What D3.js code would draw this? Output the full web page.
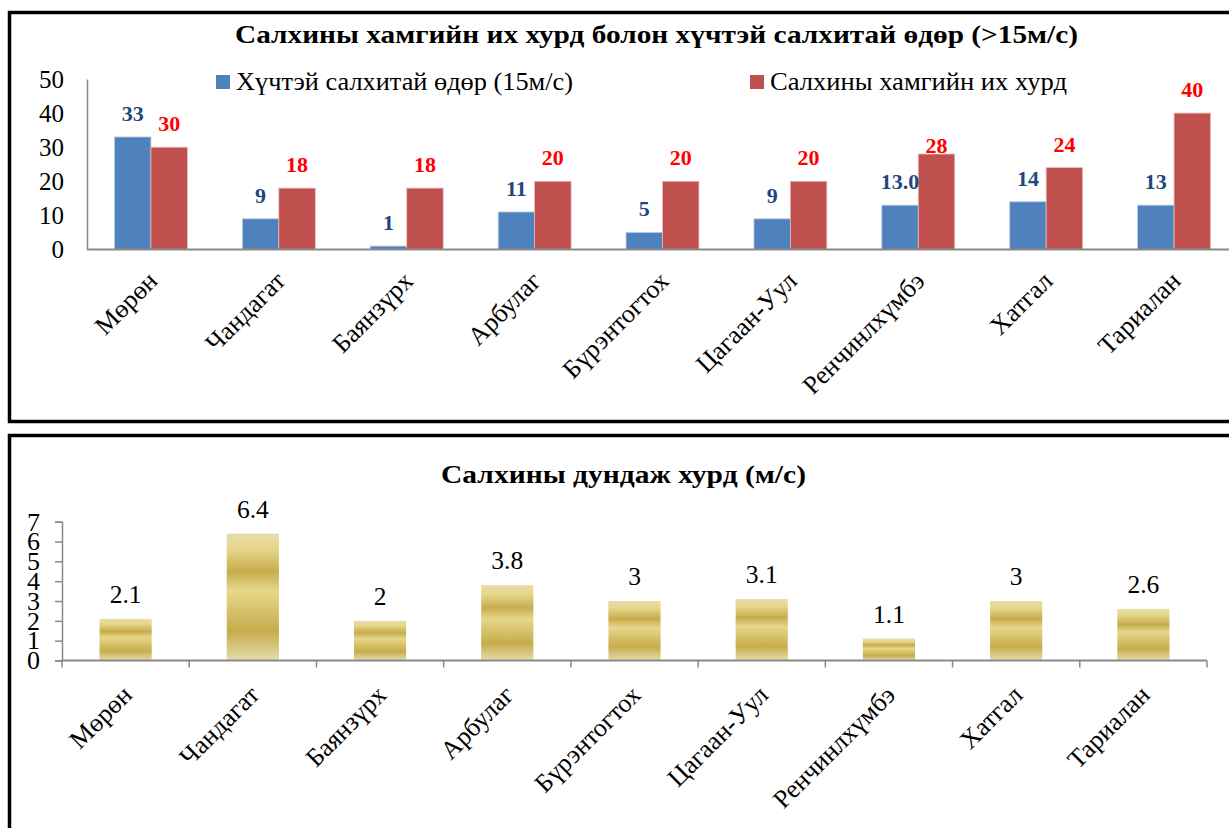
<!DOCTYPE html>
<html>
<head>
<meta charset="utf-8">
<script src="https://cdn.jsdelivr.net/npm/d3@7"></script>
<style>
  html, body { margin: 0; padding: 0; background: #fff; }
  svg { display: block; }
</style>
</head>
<body>
<svg id="chart" width="1229" height="828"></svg>
<script>
// ---------- data ----------
const categories = ["Мөрөн", "Чандагат", "Баянзүрх", "Арбулаг", "Бүрэнтогтох", "Цагаан-Уул", "Ренчинлхүмбэ", "Хатгал", "Тариалан"];
const strongWindDays = [33, 9, 1, 11, 5, 9, 13.0, 14, 13];
const strongWindLabels = ["33", "9", "1", "11", "5", "9", "13.0", "14", "13"];
const maxWindSpeed = [30, 18, 18, 20, 20, 20, 28, 24, 40];
const avgWindSpeed = [2.1, 6.4, 2, 3.8, 3, 3.1, 1.1, 3, 2.6];
const seriesNames = ["Хүчтэй салхитай өдөр (15м/с)", "Салхины хамгийн их хурд"];
const topTitle = "Салхины хамгийн их хурд болон хүчтэй салхитай өдөр (>15м/с)";
const bottomTitle = "Салхины дундаж хурд (м/с)";
const topTicks = [0, 10, 20, 30, 40, 50];
const bottomTicks = [0, 1, 2, 3, 4, 5, 6, 7];

const FONT = '"Liberation Serif", "Times New Roman", Tinos, serif';

// ---------- setup ----------
const svg = d3.select("#chart").style("font-family", FONT);
const axisGray = "#898989";
const blue = "#4F81BD", red = "#C0504D";

const defs = svg.append("defs");
const grad = defs.append("linearGradient").attr("id", "gold")
  .attr("x1", 0).attr("y1", 0).attr("x2", 0).attr("y2", 1);
[[0, "#E6DCAC"], [0.12, "#E6D78A"], [0.30, "#C7AC4C"], [0.45, "#E6D78A"], [0.77, "#C7AC4C"], [1, "#E6DCAC"]]
  .forEach(([o, c]) => grad.append("stop").attr("offset", o).attr("stop-color", c));

// panel frames
svg.append("rect").attr("x", 9.5).attr("y", 12.5).attr("width", 1240).attr("height", 409)
  .attr("fill", "#fff").attr("stroke", "#000").attr("stroke-width", 3.5);
svg.append("rect").attr("x", 9.5).attr("y", 435.5).attr("width", 1240).attr("height", 500)
  .attr("fill", "#fff").attr("stroke", "#000").attr("stroke-width", 3.5);

// ================= TOP CHART =================
const x1 = d3.scaleBand().domain(categories).range([87, 1238]).paddingInner(0.43).paddingOuter(0.215);
const xs1 = d3.scaleBand().domain([0, 1]).range([0, x1.bandwidth()]);
const y1 = d3.scaleLinear().domain([0, 50]).range([249.5, 79]);

const topG = svg.append("g");

topG.append("text").attr("x", 656.5).attr("y", 43).attr("text-anchor", "middle")
  .attr("font-size", 26).attr("font-weight", "bold")
  .attr("textLength", 843).attr("lengthAdjust", "spacingAndGlyphs").text(topTitle);

// y axis
const yAxis1 = d3.axisLeft(y1).tickValues(topTicks).tickSize(0).tickPadding(23).tickFormat(d3.format("d"));
const ya1 = topG.append("g").attr("transform", "translate(87,0)").call(yAxis1)
  .attr("font-family", null).attr("font-size", null);
ya1.select(".domain").attr("stroke", axisGray).attr("stroke-width", 1.5);
ya1.selectAll("text").attr("font-size", 25).attr("fill", "#000");

// bars
const groups1 = topG.selectAll(".cat").data(categories).enter().append("g")
  .attr("transform", d => `translate(${x1(d)},0)`);
groups1.append("rect")
  .attr("x", xs1(0)).attr("width", xs1.bandwidth())
  .attr("y", (d, i) => y1(strongWindDays[i]))
  .attr("height", (d, i) => y1(0) - y1(strongWindDays[i]))
  .attr("fill", blue).attr("stroke", "#B9CDE5").attr("stroke-width", 0.8);
groups1.append("rect")
  .attr("x", xs1(1)).attr("width", xs1.bandwidth())
  .attr("y", (d, i) => y1(maxWindSpeed[i]))
  .attr("height", (d, i) => y1(0) - y1(maxWindSpeed[i]))
  .attr("fill", red).attr("stroke", "#E6B9B8").attr("stroke-width", 0.8);

// x axis line
topG.append("line").attr("x1", 87).attr("x2", 1240).attr("y1", y1(0)).attr("y2", y1(0))
  .attr("stroke", axisGray).attr("stroke-width", 2);

// data labels
const redNudge = { "Ренчинлхүмбэ": 15 };
groups1.append("text")
  .attr("x", xs1(0) + xs1.bandwidth() / 2)
  .attr("y", (d, i) => y1(strongWindDays[i]) - 16)
  .attr("text-anchor", "middle").attr("font-size", 22).attr("font-weight", "bold")
  .attr("fill", "#1F497D").text((d, i) => strongWindLabels[i]);
groups1.append("text")
  .attr("x", xs1(1) + xs1.bandwidth() / 2)
  .attr("y", (d, i) => y1(maxWindSpeed[i]) - 16 + (redNudge[d] || 0))
  .attr("text-anchor", "middle").attr("font-size", 22).attr("font-weight", "bold")
  .attr("fill", "#FF0000").text((d, i) => maxWindSpeed[i]);

// category labels
topG.selectAll(".xl").data(categories).enter().append("text")
  .attr("transform", d => `translate(${x1(d) + x1.bandwidth() / 2 + 8},${y1(0) + 33}) rotate(-45)`)
  .attr("text-anchor", "end").attr("font-size", 26).text(d => d);

// legend
const legend = [
  { name: seriesNames[0], color: blue, x: 216, len: 337 },
  { name: seriesNames[1], color: red, x: 750, len: 297 }
];
const lg = topG.selectAll(".lg").data(legend).enter().append("g");
lg.append("rect").attr("x", d => d.x).attr("y", 75).attr("width", 14).attr("height", 14).attr("fill", d => d.color);
lg.append("text").attr("x", d => d.x + 20).attr("y", 90).attr("font-size", 25)
  .attr("textLength", d => d.len).attr("lengthAdjust", "spacingAndGlyphs").text(d => d.name);

// ================= BOTTOM CHART =================
const x2 = d3.scaleBand().domain(categories).range([62, 1207]).paddingInner(0.59).paddingOuter(0.295);
const y2 = d3.scaleLinear().domain([0, 7]).range([660.5, 521.7]);
const botG = svg.append("g");

botG.append("text").attr("x", 623.5).attr("y", 483).attr("text-anchor", "middle")
  .attr("font-size", 26).attr("font-weight", "bold")
  .attr("textLength", 365).attr("lengthAdjust", "spacingAndGlyphs").text(bottomTitle);

const yAxis2 = d3.axisLeft(y2).tickValues(bottomTicks).tickSize(7).tickPadding(15).tickFormat(d3.format("d"));
const ya2 = botG.append("g").attr("transform", "translate(62,0)").call(yAxis2)
  .attr("font-family", null).attr("font-size", null);
ya2.select(".domain").attr("stroke", axisGray).attr("stroke-width", 1.5);
ya2.selectAll(".tick line").attr("stroke", axisGray).attr("stroke-width", 1.5);
ya2.selectAll("text").attr("font-size", 26).attr("fill", "#000");

botG.selectAll(".bar").data(categories).enter().append("rect")
  .attr("x", d => x2(d)).attr("width", x2.bandwidth())
  .attr("y", (d, i) => y2(avgWindSpeed[i]))
  .attr("height", (d, i) => y2(0) - y2(avgWindSpeed[i]))
  .attr("fill", "url(#gold)");

// x axis with boundary ticks
botG.append("line").attr("x1", 62).attr("x2", 1207).attr("y1", y2(0)).attr("y2", y2(0))
  .attr("stroke", axisGray).attr("stroke-width", 2);
const boundaries = categories.map(d => x2(d) - x2.step() * x2.paddingInner() / 2).concat([1207]);
botG.selectAll(".bt").data(boundaries).enter().append("line")
  .attr("x1", d => d).attr("x2", d => d).attr("y1", y2(0)).attr("y2", y2(0) + 7)
  .attr("stroke", axisGray).attr("stroke-width", 1.5);

botG.selectAll(".vl").data(categories).enter().append("text")
  .attr("x", d => x2(d) + x2.bandwidth() / 2)
  .attr("y", (d, i) => y2(avgWindSpeed[i]) - 16)
  .attr("text-anchor", "middle").attr("font-size", 25.5).text((d, i) => avgWindSpeed[i]);

botG.selectAll(".xl2").data(categories).enter().append("text")
  .attr("transform", d => `translate(${x2(d) + x2.bandwidth() / 2 + 8},${y2(0) + 36}) rotate(-45)`)
  .attr("text-anchor", "end").attr("font-size", 26).text(d => d);
</script>
</body>
</html>
